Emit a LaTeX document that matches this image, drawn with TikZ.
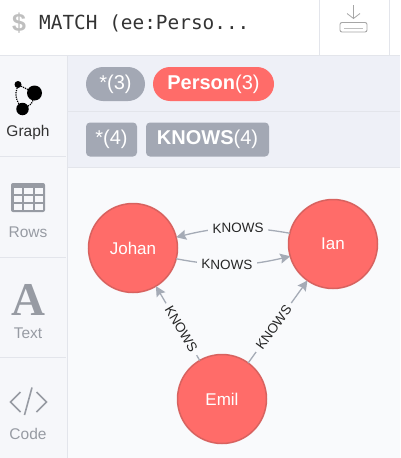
\documentclass[tikz,border=0pt]{standalone}
\usepackage{fontspec}
\setmainfont{Liberation Sans}
\newfontfamily\codefont{DejaVu Sans Mono}
\newfontfamily\glyphfont{Liberation Serif}
\usetikzlibrary{arrows.meta}
\definecolor{nodered}{HTML}{FF6C69}
\definecolor{noderim}{HTML}{D8625F}
\definecolor{pillgray}{HTML}{A3A8B4}
\definecolor{edgegray}{HTML}{A5ABB6}
\definecolor{panelbg}{HTML}{EEF0F7}
\definecolor{canvasbg}{HTML}{F9FAFC}
\definecolor{sidebg}{HTML}{F6F7FA}
\definecolor{rulegray}{HTML}{E3E5EB}
\definecolor{tabgray}{HTML}{979BA3}
\tikzset{
  person/.style={circle,fill=nodered,draw=noderim,line width=1.5pt,minimum size=89pt,inner sep=0pt,outer sep=0pt,text=white,font=\fontsize{17}{20}\selectfont},
  knows/.style={-{Stealth[length=10pt,width=10pt,inset=1.5pt]},edgegray,line width=1.3pt},
  edgelabel/.style={sloped,fill=canvasbg,text=black!85,inner sep=1pt,inner xsep=4.5pt,font=\fontsize{13.5}{16}\selectfont},
  pill/.style={fill=pillgray,text=white,inner sep=0pt,minimum height=34pt,rounded corners=17pt,font=\fontsize{20}{23}\selectfont},
  tag/.style={pill,rounded corners=4pt},
  tablabel/.style={text=tabgray,font=\fontsize{15.5}{18}\selectfont},
  icondot/.style={circle,fill=black,inner sep=0pt,outer sep=0pt},
  icondots/.style={densely dotted,line width=1.2pt}
}
\begin{document}
\begin{tikzpicture}[x=1pt,y=-1pt]
  \useasboundingbox (0,0) rectangle (400,458);
  % panels
  \fill[white] (0,0) rectangle (400,55);
  \fill[sidebg] (0,56) rectangle (67,458);
  \fill[panelbg] (68,56) rectangle (400,167);
  \fill[canvasbg] (68,167) rectangle (400,458);
  \draw[rulegray] (0,55.5) -- (400,55.5);
  \draw[rulegray] (67.5,56) -- (67.5,458);
  \draw[rulegray] (68,111) -- (400,111);
  \draw[rulegray] (68,167) -- (400,167);
  \foreach \x in {319,389} {
    \draw[rulegray] (\x,0) -- (\x,55);
  }
  \foreach \y in {156,257,357} {
    \draw[rulegray,line width=1pt] (0,\y) -- (66,\y);
  }

  % query bar
  \node[text=black!25,font=\fontsize{25}{28}\bfseries\selectfont] (dollar) at (19,23) {\$};
  \node[anchor=west,inner sep=0pt,text=black!80,font=\codefont\fontsize{19.4}{24}\selectfont] (query) at (39,23) {MATCH (ee:Perso...};
  \coordinate (arrowtop) at (353.5,5);
  \coordinate (arrowend) at (353.5,19);
  \draw[-{Straight Barb[length=5pt,width=13pt]},black!35,line width=0.8pt] (arrowtop) -- (arrowend);
  \draw[black!35,line width=0.9pt,rounded corners=2pt] (340,22.5) rectangle (367,32);
  \draw[black!25,line width=0.9pt] (344,28.5) -- (363,28.5);

  % pills
  \node[pill,minimum width=59pt] (allnodes) at (115.5,84) {*(3)};
  \node[pill,fill=nodered,minimum width=121pt] (persons) at (213.5,84) {\textbf{Person}(3)};
  \node[tag,minimum width=51pt] (allrels) at (111.5,139.5) {*(4)};
  \node[tag,minimum width=123pt] (knowsrels) at (207.5,139.5) {\textbf{KNOWS}(4)};

  % graph tab
  \node[icondot,minimum size=7pt] (gsmall) at (18,84.5) {};
  \node[icondot,minimum size=15pt] (gbig) at (34.5,93) {};
  \node[icondot,minimum size=12.5pt] (gmid) at (22.5,109) {};
  \draw[icondots] (gsmall) -- (gbig);
  \draw[icondots] (gsmall) to[bend right=25] (gmid);
  \draw[icondots] (gbig) to[bend left=25] (gmid);
  \node[tablabel,text=black!80] (graphtab) at (28,132) {Graph};

  % rows tab
  \fill[tabgray,rounded corners=2pt] (11,183) rectangle (45,212);
  \foreach \x/\w in {13.5/8,23.5/9,34.5/8.5} {
    \foreach \y/\h in {188/6,195.7/6.3,204/5.7} {
      \fill[sidebg] (\x,\y) rectangle +(\w,\h);
    }
  }
  \node[tablabel] (rowstab) at (28,232.5) {Rows};

  % text tab
  \node[text=tabgray,font=\glyphfont\fontsize{47}{50}\bfseries\selectfont,inner sep=0pt] (textglyph) at (28,300) {A};
  \node[tablabel] (texttab) at (28,333) {Text};

  % code tab
  \draw[tabgray,line width=1.6pt] (20.5,392) -- (10.5,402) -- (20.5,412);
  \draw[tabgray,line width=1.6pt] (32,387.5) -- (24.5,415);
  \draw[tabgray,line width=1.6pt] (36.5,392) -- (46.5,402) -- (36.5,412);
  \node[tablabel] (codetab) at (28,434) {Code};

  % graph
  \node[person] (johan) at (133,248) {Johan};
  \node[person] (ian) at (333,244) {Ian};
  \node[person] (emil) at (222,399) {Emil};
  \draw[knows] (ian.166) to[bend right=12] node[edgelabel,pos=0.45] {KNOWS} (johan.14);
  \draw[knows] (johan.-14) to[bend right=12] node[edgelabel,pos=0.44] {KNOWS} (ian.196);
  \draw[knows] (emil.120) -- node[edgelabel,pos=0.42] {KNOWS} (johan.-59);
  \draw[knows] (emil.54) -- node[edgelabel,pos=0.43] {KNOWS} (ian.235);
\end{tikzpicture}
\end{document}
